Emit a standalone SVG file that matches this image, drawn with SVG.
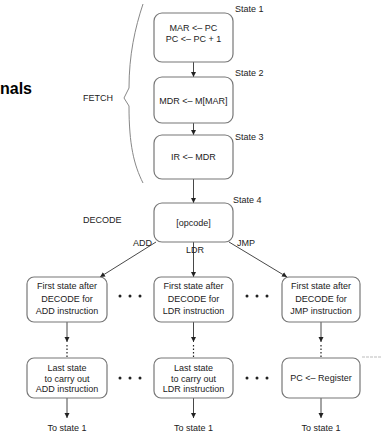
<svg xmlns="http://www.w3.org/2000/svg" width="383" height="435" viewBox="0 0 383 435">
<style>
.box{fill:#fff;stroke:#777;stroke-width:1.2}
.t{font-family:"Liberation Sans",Arial,sans-serif;font-size:9px;fill:#222;text-anchor:middle}
.l{font-family:"Liberation Sans",Arial,sans-serif;font-size:9px;fill:#222}
.c{stroke:#333;stroke-width:0.9;fill:none}
.dot{fill:#222}
</style>
<defs>
<marker id="ah" markerWidth="6" markerHeight="6" refX="5" refY="3" orient="auto" markerUnits="userSpaceOnUse">
<path d="M0,0.5 L5,3 L0,5.5 Z" fill="#222"/>
</marker>
</defs>
<rect width="383" height="435" fill="#fff"/>
<text x="0" y="94" font-family="Liberation Sans,Arial,sans-serif" font-size="16" font-weight="bold" fill="#000">nals</text>
<path d="M143,4 C135,28 129,55 129,88 L124,98 L129,106 C129,145 134,165 143,183" stroke="#888" stroke-width="1" fill="none"/>
<text class="l" x="83" y="101">FETCH</text>
<text class="l" x="83" y="223">DECODE</text>
<g id="connectors">
<line class="c" x1="193.5" y1="62" x2="193.5" y2="77" marker-end="url(#ah)"/>
<line class="c" x1="193.5" y1="123" x2="193.5" y2="135" marker-end="url(#ah)"/>
<line class="c" x1="193.5" y1="179" x2="193.5" y2="203" marker-end="url(#ah)"/>
<line class="c" x1="156" y1="242" x2="100" y2="277" marker-end="url(#ah)"/>
<line class="c" x1="193.5" y1="242" x2="193.5" y2="277" marker-end="url(#ah)"/>
<line class="c" x1="229" y1="242" x2="287" y2="277" marker-end="url(#ah)"/>
<text class="l" x="133" y="246">ADD</text>
<text class="l" x="186" y="253">LDR</text>
<text class="l" x="237" y="246">JMP</text>
<line class="c" x1="67" y1="322" x2="67" y2="342" marker-end="url(#ah)"/>
<line class="c" x1="193.5" y1="322" x2="193.5" y2="342" marker-end="url(#ah)"/>
<line class="c" x1="321" y1="322" x2="321" y2="342" marker-end="url(#ah)"/>
<line x1="67" y1="345" x2="67" y2="357" stroke="#222" stroke-width="1.2" stroke-dasharray="1.5,2"/>
<line x1="193.5" y1="345" x2="193.5" y2="357" stroke="#222" stroke-width="1.2" stroke-dasharray="1.5,2"/>
<line x1="321" y1="345" x2="321" y2="357" stroke="#222" stroke-width="1.2" stroke-dasharray="1.5,2"/>
<line class="c" x1="67" y1="398" x2="67" y2="418" marker-end="url(#ah)"/>
<line class="c" x1="193.5" y1="398" x2="193.5" y2="418" marker-end="url(#ah)"/>
<line class="c" x1="321" y1="398" x2="321" y2="418" marker-end="url(#ah)"/>
<text class="t" x="67" y="431">To state 1</text>
<text class="t" x="193.5" y="431">To state 1</text>
<text class="t" x="321" y="431">To state 1</text>
<line x1="362" y1="357" x2="382" y2="357" stroke="#aaa" stroke-width="0.8" stroke-dasharray="3,1"/>
</g>
<g id="state1">
<rect class="box" x="154" y="13" width="79" height="49" rx="8"/>
<text class="t" x="193.5" y="31">MAR &lt;– PC</text>
<text class="t" x="193.5" y="42">PC &lt;– PC + 1</text>
<text class="l" x="235" y="12" font-size="8.5">State 1</text>
</g>
<g id="state2">
<rect class="box" x="154" y="77" width="79" height="46" rx="8"/>
<text class="t" x="193.5" y="104">MDR &lt;– M[MAR]</text>
<text class="l" x="235" y="76" font-size="8.5">State 2</text>
</g>
<g id="state3">
<rect class="box" x="154" y="135" width="79" height="44" rx="8"/>
<text class="t" x="193.5" y="160">IR &lt;– MDR</text>
<text class="l" x="235" y="140" font-size="8.5">State 3</text>
</g>
<g id="state4">
<rect class="box" x="154" y="203" width="79" height="39" rx="8"/>
<text class="t" x="193.5" y="226">[opcode]</text>
<text class="l" x="233" y="203" font-size="8.5">State 4</text>
</g>
<g id="addFirst">
<rect class="box" x="27" y="277" width="80" height="45" rx="7"/>
<text class="t" x="67" y="289">First state after</text>
<text class="t" x="67" y="302">DECODE for</text>
<text class="t" x="67" y="314">ADD instruction</text>
</g>
<g id="ldrFirst">
<rect class="box" x="154" y="277" width="79" height="45" rx="7"/>
<text class="t" x="193.5" y="289">First state after</text>
<text class="t" x="193.5" y="302">DECODE for</text>
<text class="t" x="193.5" y="314">LDR instruction</text>
</g>
<g id="jmpFirst">
<rect class="box" x="282" y="277" width="78" height="45" rx="7"/>
<text class="t" x="321" y="289">First state after</text>
<text class="t" x="321" y="302">DECODE for</text>
<text class="t" x="321" y="314">JMP instruction</text>
</g>
<g id="addLast">
<rect class="box" x="27" y="358" width="80" height="40" rx="7"/>
<text class="t" x="67" y="371">Last state</text>
<text class="t" x="67" y="382">to carry out</text>
<text class="t" x="67" y="392">ADD instruction</text>
</g>
<g id="ldrLast">
<rect class="box" x="154" y="358" width="79" height="40" rx="7"/>
<text class="t" x="193.5" y="371">Last state</text>
<text class="t" x="193.5" y="382">to carry out</text>
<text class="t" x="193.5" y="392">LDR instruction</text>
</g>
<g id="jmpLast">
<rect class="box" x="282" y="358" width="78" height="40" rx="7"/>
<text class="t" x="321" y="381">PC &lt;– Register</text>
</g>
<g id="ellipses">
<circle class="dot" cx="120" cy="296" r="1.5"/><circle class="dot" cx="130" cy="296" r="1.5"/><circle class="dot" cx="140" cy="296" r="1.5"/>
<circle class="dot" cx="247" cy="296" r="1.5"/><circle class="dot" cx="257" cy="296" r="1.5"/><circle class="dot" cx="267" cy="296" r="1.5"/>
<circle class="dot" cx="120" cy="378" r="1.5"/><circle class="dot" cx="130" cy="378" r="1.5"/><circle class="dot" cx="140" cy="378" r="1.5"/>
<circle class="dot" cx="247" cy="378" r="1.5"/><circle class="dot" cx="257" cy="378" r="1.5"/><circle class="dot" cx="267" cy="378" r="1.5"/>
</g>
</svg>
